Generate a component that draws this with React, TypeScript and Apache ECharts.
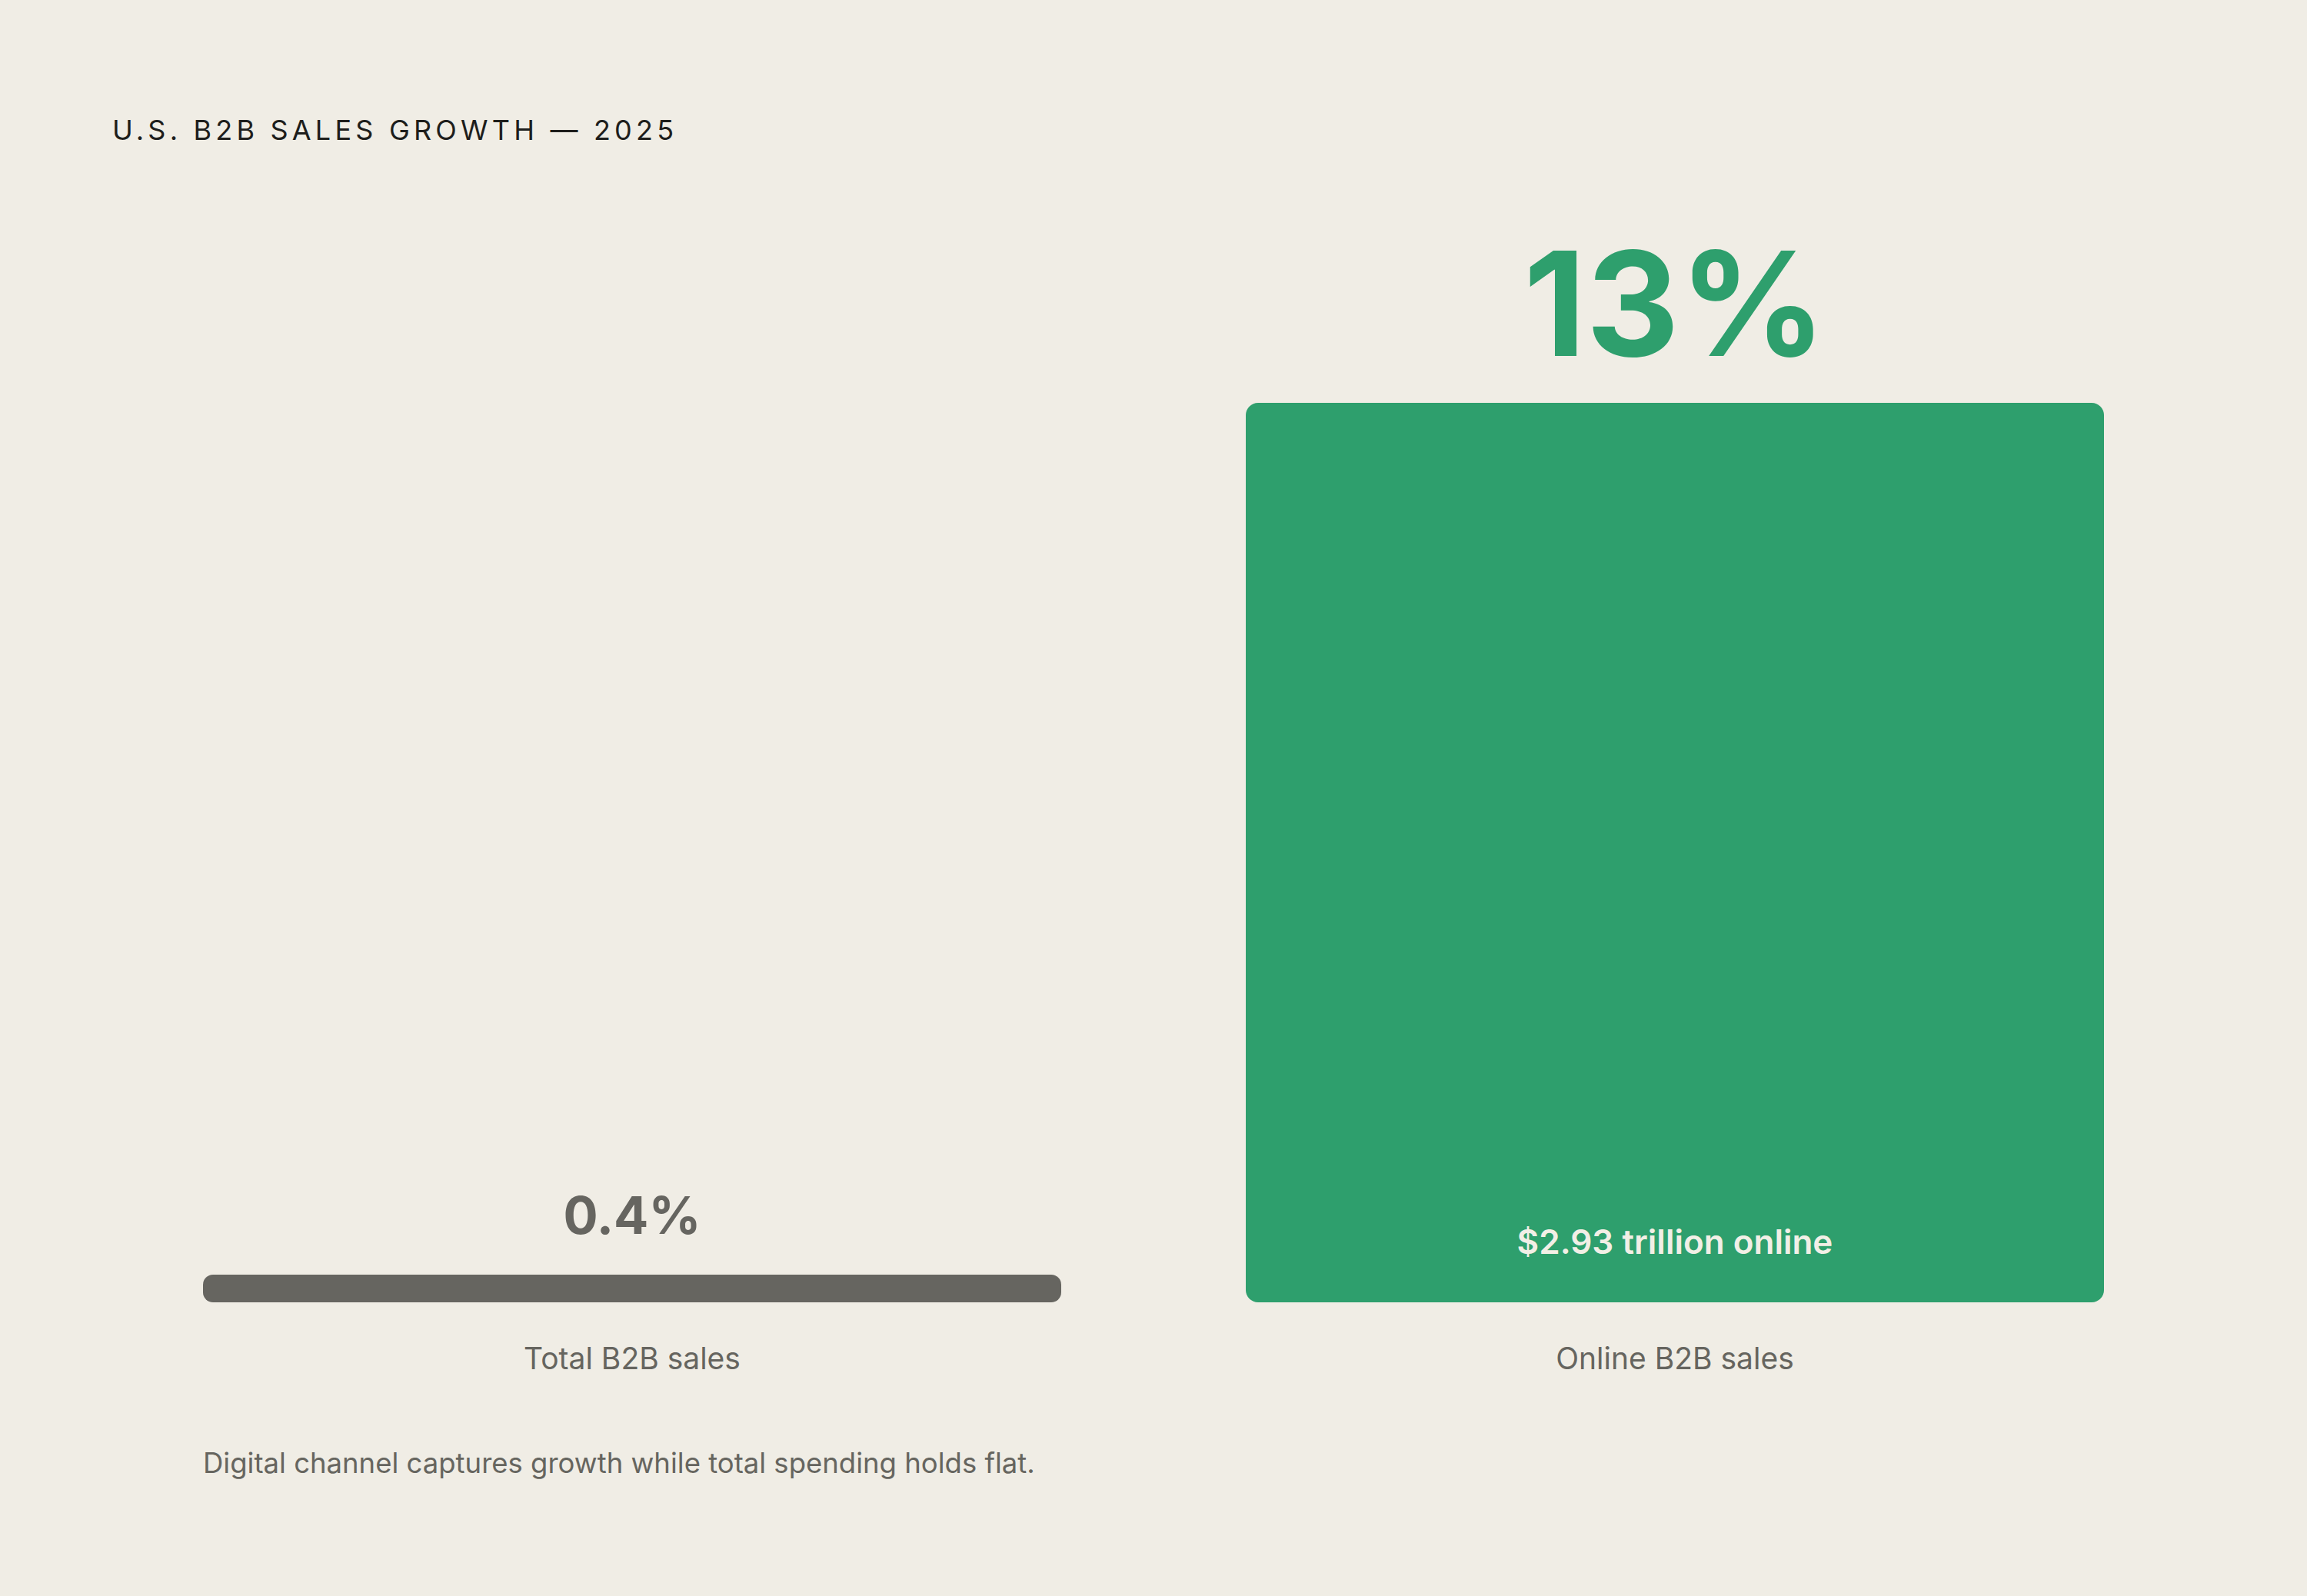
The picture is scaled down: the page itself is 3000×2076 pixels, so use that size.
import React, { useEffect, useRef } from "react";
import * as echarts from "echarts";

const categories = ["Total B2B sales", "Online B2B sales"];
const growth = [0.4, 13];
const growthLabels = ["0.4%", "13%"];
const barNotes = ["", "$2.93 trillion online"];

const BG = "#F0EDE5";
const GREEN = "#2E9F6D";
const GREY = "#666560";
const TEXT_GREY = "#66655F";
const FONT = "Inter";

const App: React.FC = () => {
    const ref = useRef<HTMLDivElement | null>(null);

    useEffect(() => {
        document.body.style.margin = "0";
        if (!ref.current) return;
        const inst = echarts.init(ref.current, undefined, { renderer: "svg" });

        inst.setOption({
            animation: false,
            backgroundColor: BG,
            textStyle: { fontFamily: FONT },
            title: {
                text: "U.S. B2B SALES GROWTH — 2025",
                left: 141,
                top: 146,
                textStyle: { fontFamily: FONT, fontSize: 36, fontWeight: 400, color: "#1E1E1C" },
            },
            graphic: [
                {
                    type: "text",
                    left: 264,
                    top: 1884,
                    style: {
                        text: "Digital channel captures growth while total spending holds flat.",
                        font: `400 36.5px ${FONT}`,
                        fill: TEXT_GREY,
                    },
                },
            ],
            grid: { left: 144, right: 144, top: 524, bottom: 382 },
            xAxis: {
                type: "category",
                data: categories,
                axisLine: { show: false },
                axisTick: { show: false },
                axisLabel: { fontSize: 39, color: TEXT_GREY, margin: 53, fontFamily: FONT },
            },
            yAxis: { type: "value", min: 0, max: 13, show: false, splitLine: { show: false } },
            series: [
                {
                    type: "bar",
                    barWidth: 1116,
                    data: growth.map((v, i) => ({
                        value: v,
                        itemStyle: {
                            color: i === 0 ? GREY : GREEN,
                            borderRadius: i === 0 ? 13 : 16,
                        },
                        label: {
                            show: true,
                            position: "top",
                            formatter: growthLabels[i],
                            fontFamily: FONT,
                            fontWeight: 700,
                            fontSize: i === 0 ? 67 : 188,
                            color: i === 0 ? GREY : GREEN,
                            distance: i === 0 ? 44 : 36,
                        },
                    })),
                },
                {
                    type: "bar",
                    barWidth: 1116,
                    barGap: "-100%",
                    silent: true,
                    itemStyle: { color: "transparent" },
                    data: growth.map((v, i) => ({
                        value: v,
                        label: {
                            show: barNotes[i] !== "",
                            position: "insideBottom",
                            formatter: barNotes[i],
                            fontFamily: FONT,
                            fontWeight: 600,
                            fontSize: 44,
                            color: "#F2EFE6",
                            distance: 57,
                        },
                    })),
                },
            ],
        });

        return () => inst.dispose();
    }, []);

    return (
        <>
            <style>{`.b2b-chart svg text[style*="36px"] { letter-spacing: 5.2px; }`}</style>
            <div className="b2b-chart" ref={ref} style={{ width: 3000, height: 2076 }} />
        </>
    );
};

export default App;
